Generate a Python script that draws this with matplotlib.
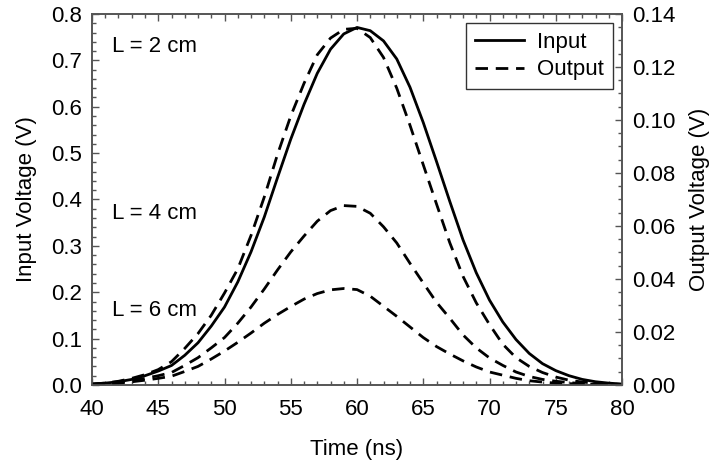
import numpy as np
import matplotlib
matplotlib.use("Agg")
import matplotlib.pyplot as plt
from matplotlib.ticker import MultipleLocator

plt.rcParams['font.family'] = ['Liberation Sans', 'DejaVu Sans']

# time axis (ns)
t = np.arange(40, 81, 1)

# input pulse, left axis (V)
v_in = [0.002, 0.004, 0.007, 0.012, 0.020, 0.030, 0.042, 0.064, 0.091, 0.127,
        0.168, 0.222, 0.287, 0.362, 0.447, 0.530, 0.605, 0.672, 0.724, 0.757,
        0.771, 0.764, 0.742, 0.703, 0.642, 0.566, 0.482, 0.396, 0.313, 0.242,
        0.183, 0.136, 0.098, 0.068, 0.046, 0.031, 0.020, 0.012, 0.007, 0.004,
        0.002]

# output pulses, right axis (V)
v_out_2cm = [0.0004, 0.0007, 0.0014, 0.0025, 0.0039, 0.0058, 0.0088, 0.0138, 0.0194, 0.0263,
             0.0347, 0.0438, 0.0564, 0.0709, 0.0870, 0.1015, 0.1138, 0.1246, 0.1309, 0.1342,
             0.1346, 0.1311, 0.1236, 0.1120, 0.0980, 0.0831, 0.0683, 0.0537, 0.0410, 0.0310,
             0.0228, 0.0154, 0.0103, 0.0070, 0.0047, 0.0030, 0.0018, 0.0011, 0.0007, 0.0004,
             0.0002]
v_out_4cm = [0.0002, 0.0005, 0.0009, 0.0016, 0.0025, 0.0035, 0.0047, 0.0074, 0.0103, 0.0140,
             0.0179, 0.0233, 0.0294, 0.0362, 0.0434, 0.0502, 0.0562, 0.0618, 0.0658, 0.0677,
             0.0674, 0.0648, 0.0597, 0.0536, 0.0459, 0.0385, 0.0312, 0.0252, 0.0189, 0.0140,
             0.0102, 0.0074, 0.0049, 0.0032, 0.0021, 0.0014, 0.0009, 0.0005, 0.0004, 0.0002,
             0.0002]
v_out_6cm = [0.0002, 0.0004, 0.0007, 0.0012, 0.0018, 0.0025, 0.0033, 0.0051, 0.0070, 0.0098,
             0.0128, 0.0161, 0.0196, 0.0233, 0.0266, 0.0296, 0.0324, 0.0345, 0.0359, 0.0364,
             0.0360, 0.0335, 0.0297, 0.0259, 0.0219, 0.0179, 0.0145, 0.0117, 0.0091, 0.0068,
             0.0049, 0.0037, 0.0025, 0.0016, 0.0011, 0.0007, 0.0005, 0.0004, 0.0002, 0.0002,
             0.0000]

labels_L = ["L = 2 cm", "L = 4 cm", "L = 6 cm"]
labels_pos = [(41.5, 0.73), (41.5, 0.37), (41.5, 0.161)]

fs = 16
spine_c = "#555555"

fig = plt.figure(figsize=(7.21, 4.68), dpi=100)
ax = fig.add_axes([0.1276, 0.1774, 0.7351, 0.7927])
ax2 = ax.twinx()

ax.plot(t, v_in, color="black", lw=2.0, label="Input")
dash = (0, (4.5, 2.8))
ax2.plot(t, v_out_2cm, color="black", lw=2.0, linestyle=dash, label="Output")
ax2.plot(t, v_out_4cm, color="black", lw=2.0, linestyle=dash)
ax2.plot(t, v_out_6cm, color="black", lw=2.0, linestyle=dash)

ax.set_xlim(40, 80)
ax.set_ylim(0, 0.8)
ax2.set_ylim(0, 0.14)

ax.xaxis.set_major_locator(MultipleLocator(5))
ax.xaxis.set_minor_locator(MultipleLocator(1))
ax.yaxis.set_major_locator(MultipleLocator(0.1))
ax.yaxis.set_minor_locator(MultipleLocator(0.02))
ax2.yaxis.set_major_locator(MultipleLocator(0.02))
ax2.yaxis.set_minor_locator(MultipleLocator(0.005))
ax.yaxis.set_major_formatter(plt.FormatStrFormatter("%.1f"))
ax2.yaxis.set_major_formatter(plt.FormatStrFormatter("%.2f"))

ax.tick_params(axis="x", which="both", direction="in", top=True, labelsize=fs,
               color=spine_c, pad=10)
ax.tick_params(axis="y", which="both", direction="in", right=False, labelsize=fs,
               color=spine_c, pad=7)
ax2.tick_params(axis="y", which="both", direction="in", labelsize=fs, color=spine_c, pad=7)
for a in (ax, ax2):
    a.tick_params(which="major", length=5, width=1)
    a.tick_params(which="minor", length=3, width=1)
    for s in a.spines.values():
        s.set_color(spine_c)
        s.set_linewidth(1.2)

ax.set_xlabel("Time (ns)", fontsize=fs, labelpad=14)
ax.set_ylabel("Input Voltage (V)", fontsize=fs, labelpad=10)
ax2.set_ylabel("Output Voltage (V)", fontsize=fs, labelpad=10)

for txt, (x, y) in zip(labels_L, labels_pos):
    ax.text(x, y, txt, fontsize=fs, va="center", ha="left")

h1, l1 = ax.get_legend_handles_labels()
h2, l2 = ax2.get_legend_handles_labels()
leg = ax2.legend(h1 + h2, l1 + l2, loc="upper right", fontsize=fs, fancybox=False,
                 framealpha=1, edgecolor="#333333", handlelength=2.2,
                 borderaxespad=0.4, labelspacing=0.3, handletextpad=0.6,
                 borderpad=0.4)
leg.get_frame().set_linewidth(1.0)

fig.savefig("out.png", dpi=100)
